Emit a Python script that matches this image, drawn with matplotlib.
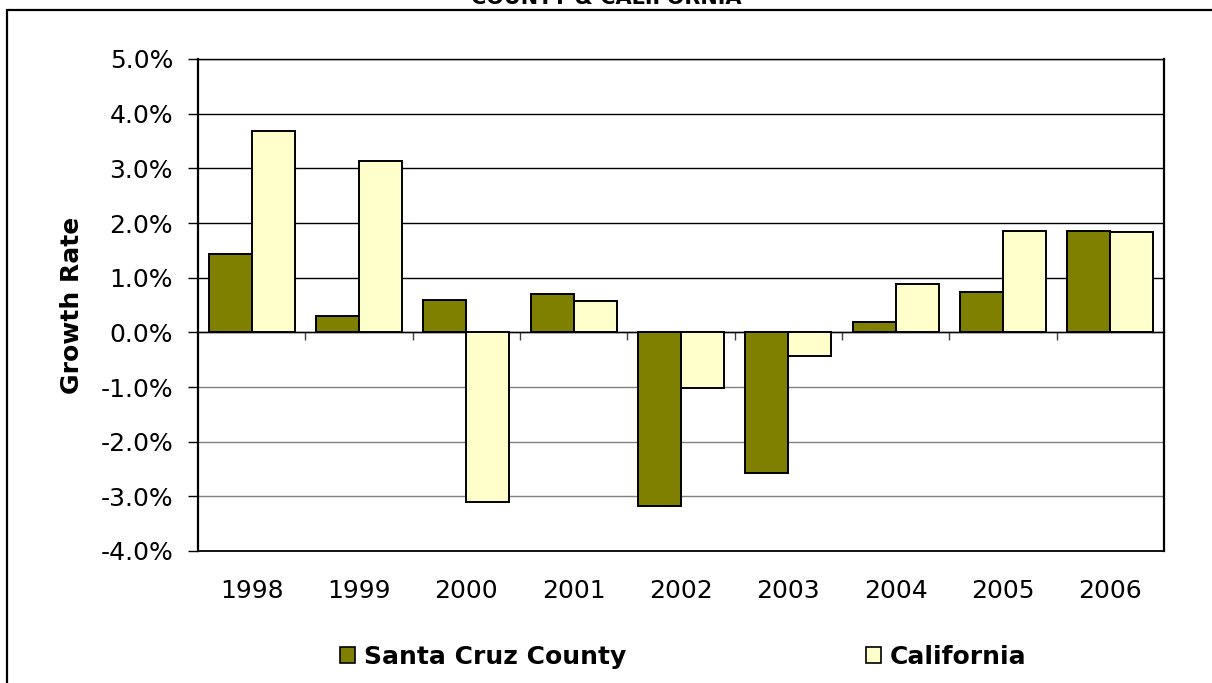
import matplotlib
matplotlib.use("Agg")
import matplotlib.pyplot as plt
import numpy as np
from matplotlib.patches import Rectangle, Patch
from matplotlib.ticker import FuncFormatter

years = ["1998", "1999", "2000", "2001", "2002", "2003", "2004", "2005", "2006"]
santa_cruz = [1.43, 0.29, 0.60, 0.70, -3.18, -2.57, 0.19, 0.73, 1.86]
california = [3.69, 3.14, -3.10, 0.57, -1.02, -0.43, 0.88, 1.86, 1.83]
y_ticks = [-4, -3, -2, -1, 0, 1, 2, 3, 4, 5]

W, H = 1212, 683
fig = plt.figure(figsize=(W / 100, H / 100), dpi=100)
fig.patch.set_facecolor("white")

# figure frame (right and bottom edges lie outside the picture)
fig.patches.append(Rectangle((7 / W, -0.1), 1.2, 1 - 10 / H + 0.1,
                             transform=fig.transFigure, fill=False,
                             edgecolor="black", lw=1.6))
fig.text(0.5, 1 - 4 / H, "COUNTY & CALIFORNIA", ha="center", va="baseline",
         fontsize=15, fontweight="bold")

ax = fig.add_axes([198 / W, 1 - 551 / H, (1164 - 198) / W, (551 - 59) / H])
x = np.arange(len(years))
bw = 0.4
ax.bar(x - bw / 2, santa_cruz, bw, color="#808000", edgecolor="black", lw=1.4,
       label="Santa Cruz County", zorder=3)
ax.bar(x + bw / 2, california, bw, color="#FFFFCC", edgecolor="black", lw=1.4,
       label="California", zorder=3)

ax.set_xlim(-0.5, len(years) - 0.5)
ax.set_ylim(-4, 5)
ax.set_yticks(y_ticks)
ax.yaxis.set_major_formatter(FuncFormatter(lambda v, p: f"{v:.1f}%"))
ax.tick_params(axis="y", labelsize=18, direction="out", length=7, width=1, pad=11)
ax.set_xticks(x)
ax.set_xticklabels(years)
ax.tick_params(axis="x", labelsize=18, length=0, pad=20)

ax.grid(axis="y", color="black", lw=1, zorder=1)
for gl, t in zip(ax.get_ygridlines(), y_ticks):
    if t < 0:
        gl.set_color("#808080")

for s in ["left", "right"]:
    ax.spines[s].set_linewidth(1.6)
    ax.spines[s].set_color("black")
ax.spines["top"].set_linewidth(1)
ax.spines["bottom"].set_color("black")
ax.spines["bottom"].set_linewidth(1.3)

# category axis at zero with boundary tick marks
sec = ax.secondary_xaxis(4 / 9)
sec.set_xticks(np.arange(0.5, len(years) - 0.5, 1.0))
sec.set_xticklabels([])
sec.tick_params(direction="out", length=6, width=1, color="#404040")
sec.spines["bottom"].set_color("#404040")
sec.spines["bottom"].set_linewidth(1)

ax.set_ylabel("Growth Rate", fontsize=18, fontweight="bold", va="center")
ax.yaxis.set_label_coords((72 - 198) / (1164 - 198), 0.5)

handles = [Patch(facecolor="#808000", edgecolor="black", lw=1.2),
           Patch(facecolor="#FFFFCC", edgecolor="black", lw=1.2)]
fig.legend(handles, ["Santa Cruz County", "California"], loc="center",
           bbox_to_anchor=(683.5 / W, 1 - 657 / H), ncol=2, frameon=False,
           prop={"size": 18, "weight": "bold"}, handlelength=0.6,
           handleheight=0.6, handletextpad=0.35, columnspacing=9.6)

fig.savefig("out.png", dpi=100)
